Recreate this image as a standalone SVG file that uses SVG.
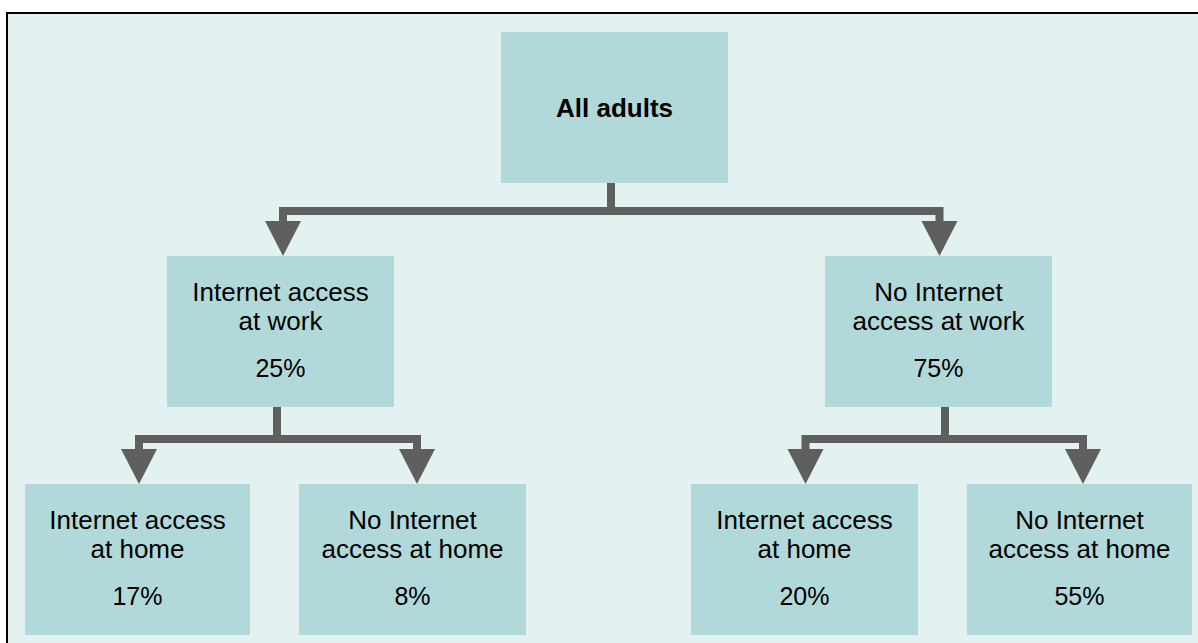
<svg xmlns="http://www.w3.org/2000/svg" width="1198" height="643" viewBox="0 0 1198 643">
  <style>
    .box { fill: #B1D9DA; }
    .lbl { font-family: "Liberation Sans", Arial, sans-serif; font-size: 26px; fill: #000; text-anchor: middle; }
    .bold { font-weight: bold; }
    .pct { font-size: 25px; }
    .wire { fill: none; stroke: #5F5F5F; stroke-width: 8; stroke-linejoin: miter; stroke-linecap: butt; }
    .head { fill: #5F5F5F; }
  </style>

  <!-- page and frame -->
  <rect x="0" y="0" width="1198" height="643" fill="#FFFFFF"/>
  <rect x="7" y="13" width="1300" height="700" fill="#E3F1F1" stroke="#000" stroke-width="2"/>

  <!-- connectors -->
  <g id="connectors">
    <path class="wire" d="M611,183 V211"/>
    <path class="wire" d="M283,222 V211 H939.5 V222"/>
    <polygon class="head" points="265,221 301,221 283,256"/>
    <polygon class="head" points="921.5,221 957.5,221 939.5,256"/>

    <path class="wire" d="M277,407 V439"/>
    <path class="wire" d="M139,450 V439 H417 V450"/>
    <polygon class="head" points="121,449 157,449 139,484"/>
    <polygon class="head" points="399,449 435,449 417,484"/>

    <path class="wire" d="M945,407 V439"/>
    <path class="wire" d="M805.5,450 V439 H1083 V450"/>
    <polygon class="head" points="787.5,449 823.5,449 805.5,484"/>
    <polygon class="head" points="1065,449 1101,449 1083,484"/>
  </g>

  <!-- root -->
  <g id="all-adults">
    <rect class="box" x="501" y="32" width="227" height="151"/>
    <text class="lbl bold" x="614.5" y="117">All adults</text>
  </g>

  <!-- second level -->
  <g id="work-yes">
    <rect class="box" x="167" y="256" width="227" height="151"/>
    <text class="lbl" x="280.5" y="301">Internet access</text>
    <text class="lbl" x="280.5" y="330">at work</text>
    <text class="lbl pct" x="280.5" y="377">25%</text>
  </g>
  <g id="work-no">
    <rect class="box" x="825" y="256" width="227" height="151"/>
    <text class="lbl" x="938.5" y="301">No Internet</text>
    <text class="lbl" x="938.5" y="330">access at work</text>
    <text class="lbl pct" x="938.5" y="377">75%</text>
  </g>

  <!-- third level -->
  <g id="work-yes-home-yes">
    <rect class="box" x="25" y="484" width="225" height="151"/>
    <text class="lbl" x="137.5" y="529">Internet access</text>
    <text class="lbl" x="137.5" y="558">at home</text>
    <text class="lbl pct" x="137.5" y="605">17%</text>
  </g>
  <g id="work-yes-home-no">
    <rect class="box" x="299" y="484" width="227" height="151"/>
    <text class="lbl" x="412.5" y="529">No Internet</text>
    <text class="lbl" x="412.5" y="558">access at home</text>
    <text class="lbl pct" x="412.5" y="605">8%</text>
  </g>
  <g id="work-no-home-yes">
    <rect class="box" x="691" y="484" width="227" height="151"/>
    <text class="lbl" x="804.5" y="529">Internet access</text>
    <text class="lbl" x="804.5" y="558">at home</text>
    <text class="lbl pct" x="804.5" y="605">20%</text>
  </g>
  <g id="work-no-home-no">
    <rect class="box" x="967" y="484" width="225" height="151"/>
    <text class="lbl" x="1079.5" y="529">No Internet</text>
    <text class="lbl" x="1079.5" y="558">access at home</text>
    <text class="lbl pct" x="1079.5" y="605">55%</text>
  </g>
</svg>
